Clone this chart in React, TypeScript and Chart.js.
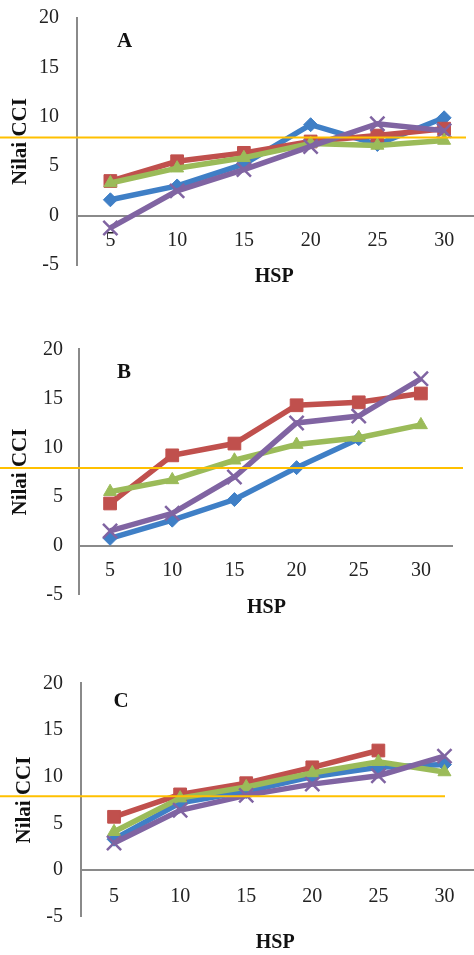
import React, { useEffect, useRef } from 'react';
import { Chart, registerables } from 'chart.js';

Chart.register(...registerables);

// ---- data ----
const HSP_LABELS = ['5', '10', '15', '20', '25', '30'];
const Y_TICKS = [-5, 0, 5, 10, 15, 20];
const THRESHOLD = 7.9;

const A_BLUE = [1.6, 3.0, 5.2, 9.2, 7.2, 9.9];
const A_RED = [3.5, 5.5, 6.35, 7.5, 8.1, 8.8];
const A_GREEN = [3.3, 4.8, 5.85, 7.3, 7.1, 7.6];
const A_PURPLE = [-1.25, 2.5, 4.65, 7.0, 9.3, 8.6];

const B_BLUE = [0.75, 2.6, 4.7, 7.95, 10.9, null];
const B_RED = [4.3, 9.2, 10.4, 14.3, 14.6, 15.5];
const B_GREEN = [5.5, 6.7, 8.7, 10.3, 11.0, 12.3];
const B_PURPLE = [1.5, 3.3, 7.0, 12.5, 13.2, 17.0];

const C_BLUE = [3.3, 7.2, 8.4, 10.0, 11.0, 11.3];
const C_RED = [5.7, 8.1, 9.3, 11.0, 12.8, null];
const C_GREEN = [4.1, 7.7, 8.9, 10.4, 11.6, 10.5];
const C_PURPLE = [2.9, 6.4, 8.0, 9.2, 10.1, 12.2];

// ---- styles ----
const BLUE = '#3F7FC6';
const RED = '#C0504D';
const GREEN = '#9BBB59';
const PURPLE = '#8064A2';
const GOLD = '#FFC000';
const AXIS = '#8A8A8A';
const SERIF = '"Liberation Serif", "Times New Roman", serif';

type PanelCfg = {
  letter: string;
  top: number;
  height: number;
  canvasW: number;
  axisX: number;
  chartTop: number;
  chartBottom: number;
  chartRight: number;
  tickPad: number;
  xTickPad: number;
  titlePadTop: number;
  letterDx: number;
  letterDy: number;
  hspDx: number;
  hspDy: number;
  lineEnd: number;
  series: (number | null)[][];
};

const PANELS: PanelCfg[] = [
  {
    letter: 'A', top: 0, height: 300, canvasW: 490, axisX: 77, chartTop: 18, chartBottom: 265,
    chartRight: 479, tickPad: 18, xTickPad: 13, titlePadTop: 8.4, letterDx: 47.7, letterDy: 24,
    hspDx: -3, hspDy: 61, lineEnd: 466, series: [A_BLUE, A_RED, A_GREEN, A_PURPLE],
  },
  {
    letter: 'B', top: 320, height: 300, canvasW: 474, axisX: 79, chartTop: 29.3, chartBottom: 274.8,
    chartRight: 452, tickPad: 16, xTickPad: 13, titlePadTop: 8, letterDx: 45, letterDy: 23.7,
    hspDx: 1, hspDy: 62.3, lineEnd: 463, series: [B_BLUE, B_RED, B_GREEN, B_PURPLE],
  },
  {
    letter: 'C', top: 640, height: 315, canvasW: 490, axisX: 81, chartTop: 43.3, chartBottom: 276.7,
    chartRight: 479, tickPad: 18, xTickPad: 14.5, titlePadTop: 12.4, letterDx: 40, letterDy: 18.4,
    hspDx: -4, hspDy: 72.7, lineEnd: 445, series: [C_BLUE, C_RED, C_GREEN, C_PURPLE],
  },
];

const overlayPlugin = {
  id: 'overlay',
  afterDatasetsDraw(chart: any, _args: any, opts: any) {
    const { ctx, scales } = chart;
    const y = scales.y.getPixelForValue(opts.threshold);
    ctx.save();
    ctx.strokeStyle = GOLD;
    ctx.lineWidth = 2;
    ctx.beginPath();
    ctx.moveTo(0, y);
    ctx.lineTo(opts.lineEnd, y);
    ctx.stroke();
    ctx.restore();
  },
  afterDraw(chart: any, _args: any, opts: any) {
    const { ctx, chartArea, scales } = chart;
    ctx.save();
    ctx.fillStyle = '#111';
    ctx.textAlign = 'center';
    ctx.textBaseline = 'middle';
    ctx.font = `bold 21px ${SERIF}`;
    ctx.fillText(opts.letter, chartArea.left + opts.letterDx, chartArea.top + opts.letterDy);
    ctx.font = `bold 20px ${SERIF}`;
    const zeroY = scales.y.getPixelForValue(0);
    ctx.fillText('HSP', (chartArea.left + chartArea.right) / 2 + opts.hspDx, zeroY + opts.hspDy);
    ctx.restore();
  },
};

function makeDataset(label: string, data: (number | null)[], color: string, style: string, radius: number, order: number, pbw: number) {
  return {
    label,
    data,
    borderColor: color,
    backgroundColor: color,
    pointBackgroundColor: color,
    pointBorderColor: color,
    pointStyle: style,
    pointRadius: radius,
    pointBorderWidth: pbw,
    borderWidth: 5.5,
    tension: 0,
    order,
    spanGaps: false,
    clip: false,
  };
}

function Panel({ cfg }: { cfg: PanelCfg }) {
  const ref = useRef<HTMLCanvasElement>(null);
  useEffect(() => {
    if (!ref.current) return;
    const [blue, red, green, purple] = cfg.series;
    const chart = new Chart(ref.current, {
      type: 'line',
      data: {
        labels: HSP_LABELS,
        datasets: [
          makeDataset('Seri 1', blue, BLUE, 'rectRot', 7, 4, 1),
          makeDataset('Seri 2', red, RED, 'rect', 9, 3, 1),
          makeDataset('Seri 3', green, GREEN, 'triangle', 7.5, 2, 1),
          makeDataset('Seri 4', purple, PURPLE, 'crossRot', 10, 1, 2.5),
        ] as any,
      },
      options: {
        responsive: false,
        animation: false,
        devicePixelRatio: 1,
        layout: {
          padding: {
            top: cfg.chartTop,
            bottom: cfg.height - cfg.chartBottom,
            left: 0,
            right: cfg.canvasW - cfg.chartRight,
          },
        },
        plugins: {
          legend: { display: false },
          tooltip: { enabled: false },
          overlay: {
            threshold: THRESHOLD,
            lineEnd: cfg.lineEnd,
            letter: cfg.letter,
            letterDx: cfg.letterDx,
            letterDy: cfg.letterDy,
            hspDx: cfg.hspDx,
            hspDy: cfg.hspDy,
          },
        } as any,
        scales: {
          x: {
            type: 'category',
            position: { y: 0 } as any,
            offset: true,
            grid: { display: false, drawTicks: false, drawOnChartArea: false },
            border: { display: true, color: AXIS, width: 2 },
            ticks: {
              padding: cfg.xTickPad,
              color: '#222',
              font: { family: SERIF, size: 20 },
              maxRotation: 0,
              autoSkip: false,
            },
            afterFit: (s: any) => {
              s.paddingLeft = 0;
              s.paddingRight = 0;
              s.paddingTop = 0;
              s.paddingBottom = 0;
            },
          },
          y: {
            type: 'linear',
            min: -5,
            max: 20,
            grid: { display: false, drawTicks: false, drawOnChartArea: false },
            border: { display: true, color: AXIS, width: 2 },
            ticks: {
              padding: cfg.tickPad,
              color: '#222',
              font: { family: SERIF, size: 20 },
            },
            afterBuildTicks: (s: any) => {
              s.ticks = Y_TICKS.map((v) => ({ value: v }));
            },
            title: {
              display: true,
              text: 'Nilai CCI',
              color: '#111',
              font: { family: SERIF, size: 21, weight: 'bold' },
              padding: { top: cfg.titlePadTop, bottom: 0 },
            },
            afterFit: (s: any) => {
              s.width = cfg.axisX;
              s.paddingTop = 0;
              s.paddingBottom = 0;
            },
          },
        },
      } as any,
      plugins: [overlayPlugin as any],
    });

    // Correct the layout so the plot area lands exactly where the reference has it.
    for (let i = 0; i < 3; i++) {
      const ca = chart.chartArea;
      const pad = (chart.options as any).layout.padding;
      const dTop = cfg.chartTop - ca.top;
      const dBottom = ca.bottom - cfg.chartBottom;
      const dRight = ca.right - cfg.chartRight;
      if (Math.abs(dTop) < 0.2 && Math.abs(dBottom) < 0.2 && Math.abs(dRight) < 0.2) break;
      pad.top += dTop;
      pad.bottom += dBottom;
      pad.right += dRight;
      chart.update();
    }
    return () => chart.destroy();
  }, [cfg]);

  return (
    <div style={{ position: 'absolute', left: 0, top: cfg.top, width: 474, height: cfg.height, overflow: 'hidden' }}>
      <canvas
        ref={ref}
        width={cfg.canvasW}
        height={cfg.height}
        style={{ width: cfg.canvasW, height: cfg.height, display: 'block' }}
      />
    </div>
  );
}

export default function App() {
  return (
    <div style={{ position: 'absolute', left: 0, top: 0, width: 474, height: 955, background: '#fff', overflow: 'hidden' }}>
      {PANELS.map((p) => (
        <Panel key={p.letter} cfg={p} />
      ))}
    </div>
  );
}
